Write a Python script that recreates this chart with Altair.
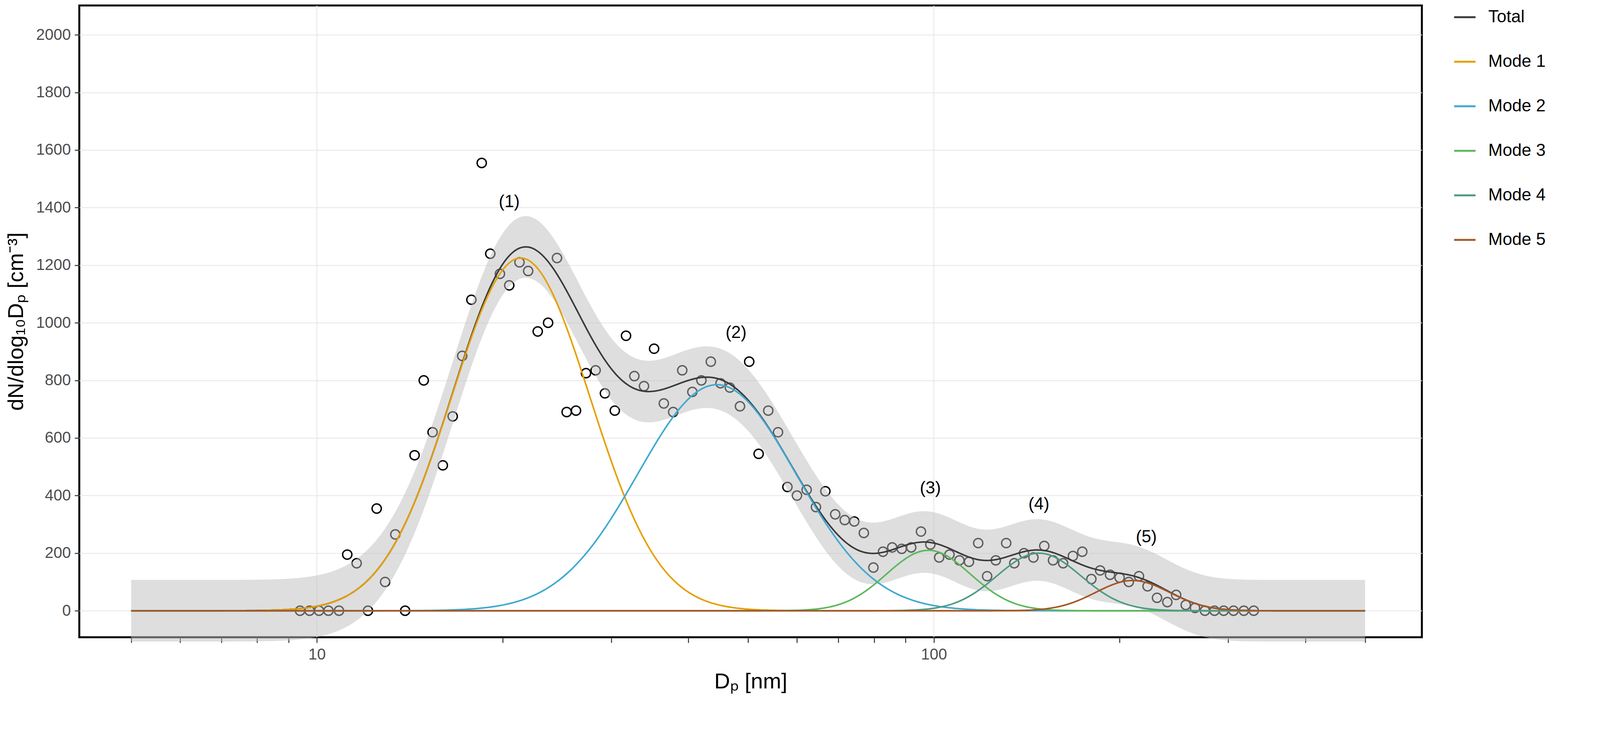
import altair as alt
import numpy as np
import pandas as pd

# measured points (Dp in nm, dN/dlog10Dp)
dp_obs = [9.39, 9.73, 10.08, 10.44, 10.86, 11.2, 11.6, 12.1, 12.5, 12.9, 13.4, 13.9,
          14.4, 14.9, 15.4, 16.0, 16.6, 17.2, 17.8, 18.5, 19.1, 19.8, 20.5, 21.3,
          22.0, 22.8, 23.7, 24.5, 25.4, 26.3, 27.3, 28.3, 29.3, 30.4, 31.7, 32.7,
          33.9, 35.2, 36.5, 37.8, 39.1, 40.6, 42.0, 43.5, 45.1, 46.7, 48.5, 50.2,
          52.0, 53.9, 55.9, 57.9, 60.0, 62.2, 64.4, 66.7, 69.2, 71.7, 74.3, 77.0,
          79.8, 82.7, 85.6, 88.7, 91.9, 95.3, 98.7, 102, 106, 110, 114, 118, 122,
          126, 131, 135, 140, 145, 151, 156, 162, 168, 174, 180, 186, 193, 200,
          207, 215, 222, 230, 239, 247, 256, 265, 275, 285, 295, 306, 318, 330]
n_obs = [0, 0, 0, 0, 0, 195, 165, 0, 355, 100, 265, 0,
         540, 800, 620, 505, 675, 885, 1080, 1555, 1240, 1170, 1130, 1210,
         1180, 970, 1000, 1225, 690, 695, 825, 835, 755, 695, 955, 815,
         780, 910, 720, 690, 835, 760, 800, 865, 790, 775, 710, 865,
         545, 695, 620, 430, 400, 420, 360, 415, 335, 315, 310, 270,
         150, 205, 220, 215, 220, 275, 230, 185, 195, 175, 170, 235, 120,
         175, 235, 165, 200, 185, 225, 175, 165, 190, 205, 110, 140, 125, 115,
         100, 120, 85, 45, 30, 55, 20, 10, 0, 0, 0, 0, 0, 0]

# fitted lognormal modes: peak height, median diameter, log10 sigma
mode_names = ["Mode 1", "Mode 2", "Mode 3", "Mode 4", "Mode 5"]
mode_peak = [1225, 785, 210, 200, 105]
mode_dpg = [21.4, 44.5, 98, 148, 210]
mode_sig = [0.112, 0.128, 0.068, 0.068, 0.06]
band_halfwidth = 107

label_text = ["(1)", "(2)", "(3)", "(4)", "(5)"]
label_x = [20.5, 47.8, 98.7, 148, 221]
label_y = [1420, 965, 425, 370, 255]

series_names = ["Total"] + mode_names
series_colors = ["#3a3a3a", "#E69F00", "#3FA9D0", "#5CB85C", "#4E9A86", "#A65628"]

grid = np.logspace(np.log10(5), np.log10(500), 500)
rows = []
total = np.zeros_like(grid)
for name, a, g, s in zip(mode_names, mode_peak, mode_dpg, mode_sig):
    y = a * np.exp(-0.5 * ((np.log10(grid) - np.log10(g)) / s) ** 2)
    total += y
    rows.append(pd.DataFrame({"dp": grid, "n": y, "series": name}))
rows.insert(0, pd.DataFrame({"dp": grid, "n": total, "series": "Total"}))
curves = pd.concat(rows)
band = pd.DataFrame({"dp": grid, "lo": total - band_halfwidth, "hi": total + band_halfwidth})
obs = pd.DataFrame({"dp": dp_obs, "n": n_obs})
labels = pd.DataFrame({"dp": label_x, "n": label_y, "t": label_text})

tick_vals = [5, 6, 7, 8, 9, 10, 20, 30, 40, 50, 60, 70, 80, 90, 100, 200, 300, 400, 500]
xscale = alt.Scale(type="log", domain=[4.12, 618], nice=False)
yscale = alt.Scale(domain=[-92, 2102], nice=False)
xaxis = alt.Axis(values=tick_vals, labelExpr="(datum.value==10||datum.value==100) ? datum.value : ''",
                 grid=False, title="Dₚ  [nm]", tickSize=14, tickWidth=2.5)
yaxis = alt.Axis(values=list(range(0, 2001, 200)), title="dN/dlog₁₀Dₚ  [cm⁻³]", format="d",
                 gridColor="#e6e6e6", gridWidth=2, tickSize=12, tickWidth=2.5)

vgrid = alt.Chart(pd.DataFrame({"dp": [10, 100]})).mark_rule(color="#e6e6e6", strokeWidth=2).encode(
    x=alt.X("dp:Q", scale=xscale, axis=xaxis))

points = alt.Chart(obs).mark_point(shape="circle", filled=False, fill="white", stroke="black",
                                   strokeWidth=3.5, size=560, opacity=1).encode(
    x=alt.X("dp:Q", scale=xscale, axis=xaxis),
    y=alt.Y("n:Q", scale=yscale, axis=yaxis))

ribbon = alt.Chart(band).mark_area(color="#bebebe", opacity=0.5).encode(
    x=alt.X("dp:Q", scale=xscale), y=alt.Y("lo:Q", scale=yscale), y2="hi:Q")

lines = alt.Chart(curves).mark_line(strokeWidth=4).encode(
    x=alt.X("dp:Q", scale=xscale),
    y=alt.Y("n:Q", scale=yscale),
    color=alt.Color("series:N", scale=alt.Scale(domain=series_names, range=series_colors),
                    sort=series_names, legend=alt.Legend(title=None, symbolType="stroke",
                                                         symbolStrokeWidth=5, symbolSize=3000,
                                                         labelFontSize=44, rowPadding=62,
                                                         labelOffset=30)),
    order=alt.Order("order:Q"))
lines = lines.transform_calculate(order="datum.series=='Total' ? 0 : 1")

text = alt.Chart(labels).mark_text(fontSize=44, font="Liberation Sans", color="black").encode(
    x=alt.X("dp:Q", scale=xscale), y=alt.Y("n:Q", scale=yscale), text="t:N")

chart = (vgrid + points + ribbon + lines + text).properties(
    width=3437, height=1617
).configure_view(stroke="black", strokeWidth=5).configure_axis(
    labelFontSize=40, titleFontSize=56, labelColor="#4d4d4d", tickColor="#333333",
    domain=False, labelFont="Liberation Sans", titleFont="Liberation Sans", titleFontWeight="normal",
    titlePadding=22, labelPadding=10
).configure_legend(labelFont="Liberation Sans", orient="right", offset=80, padding=0)

chart.save("out.html", embed_options={"renderer": "svg", "actions": False})
